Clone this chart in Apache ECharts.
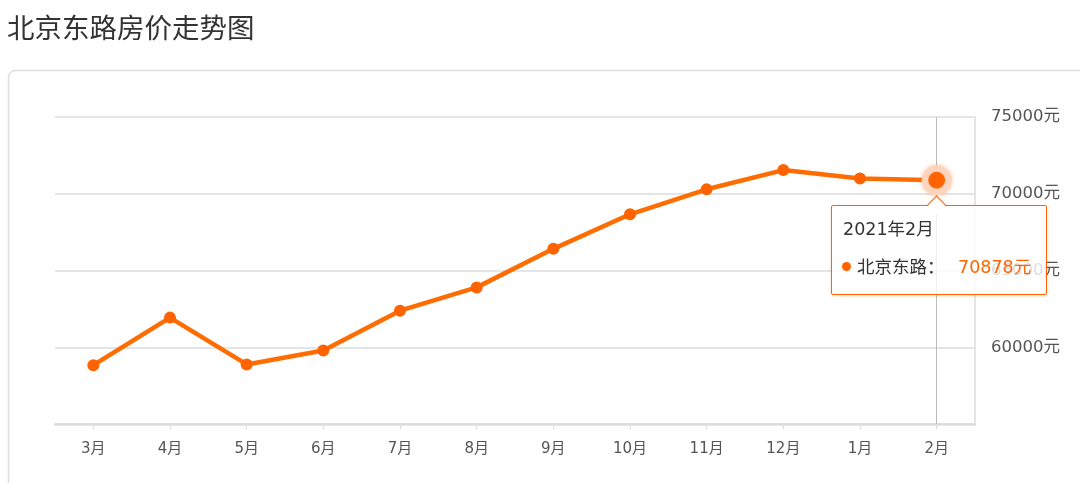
<!DOCTYPE html>
<html>
<head>
<meta charset="utf-8">
<style>
  html, body { margin: 0; padding: 0; background: #fff; }
  #chart { width: 1080px; height: 483px; }
</style>
<script src="https://cdn.jsdelivr.net/npm/echarts@6/dist/echarts.min.js"></script>
</head>
<body>
<div id="chart"></div>
<script>
const titleText = '北京东路房价走势图';
const seriesName = '北京东路';
const categories = ['3月', '4月', '5月', '6月', '7月', '8月', '9月', '10月', '11月', '12月', '1月', '2月'];
const fullDates = ['2020年3月', '2020年4月', '2020年5月', '2020年6月', '2020年7月', '2020年8月', '2020年9月', '2020年10月', '2020年11月', '2020年12月', '2021年1月', '2021年2月'];
const prices = [58830, 61930, 58880, 59790, 62380, 63900, 66410, 68660, 70290, 71540, 71000, 70878];
const yMin = 55000, yMax = 75000, yStep = 5000;
const unit = '元';

const FONT = '"DejaVu Sans", "Noto Sans CJK SC", sans-serif';
const CJK = '"Noto Sans CJK SC", sans-serif';
const HTMLFONT = "'DejaVu Sans', 'Noto Sans CJK SC', sans-serif";
const ORANGE = '#ff6300';

const chart = echarts.init(document.getElementById('chart'), null, { renderer: 'canvas' });

chart.setOption({
  animation: false,
  backgroundColor: '#fff',
  textStyle: { fontFamily: FONT },
  title: {
    text: titleText,
    left: 2,
    top: 9,
    textStyle: { fontSize: 27.5, fontWeight: 'normal', color: '#333', fontFamily: CJK }
  },
  graphic: [{
    type: 'rect',
    z: -10,
    silent: true,
    shape: { x: 8.5, y: 70.5, width: 1200, height: 600, r: 7 },
    style: { fill: 'none', stroke: '#dedede', lineWidth: 1.5 }
  }],
  grid: { left: 55, right: 105, top: 117, bottom: 59 },
  tooltip: {
    trigger: 'axis',
    alwaysShowContent: true,
    transitionDuration: 0,
    padding: 0,
    borderWidth: 1,
    borderColor: ORANGE,
    borderRadius: 2,
    backgroundColor: 'rgba(255,255,255,0.8)',
    extraCssText: 'border:1.5px solid #ff6300 !important;box-shadow:0 1px 3px rgba(255,102,0,0.25) !important;',
    axisPointer: {
      type: 'line',
      z: 1,
      lineStyle: { color: '#bbbbbb', width: 1, type: 'solid' }
    },
    position: function (point) {
      return [point[0] - 106, point[1] + 25];
    },
    formatter: function (params) {
      const p = params[0];
      return '<div style="position:relative;width:214px;height:88px;font-family:' + HTMLFONT + ';">' +
        '<div style="position:absolute;left:98px;top:-8px;width:12px;height:12px;background:#fff;border-left:1.5px solid ' + ORANGE + ';border-top:1.5px solid ' + ORANGE + ';transform:rotate(45deg);"></div>' +
        '<div style="position:absolute;left:11px;top:12px;font-size:17.5px;color:#333;line-height:22px;white-space:nowrap;">' + fullDates[p.dataIndex] + '</div>' +
        '<div style="position:absolute;left:10px;top:50px;font-size:17.5px;line-height:22px;color:#333;white-space:nowrap;">' +
          '<span style="display:inline-block;width:9px;height:9px;border-radius:50%;background:' + ORANGE + ';margin-right:6px;vertical-align:2px;"></span>' +
          p.seriesName + '：' +
          '<span style="position:absolute;left:116px;top:0;color:' + ORANGE + ';">' + p.value + unit + '</span>' +
        '</div>' +
      '</div>';
    }
  },
  xAxis: {
    type: 'category',
    data: categories,
    boundaryGap: true,
    axisLine: { show: true, lineStyle: { color: '#dcdcdc', width: 2.5 } },
    axisTick: { show: true, alignWithLabel: true, length: 5, lineStyle: { color: '#dcdcdc', width: 1 } },
    axisLabel: { color: '#555', fontSize: 15, margin: 18, fontFamily: FONT }
  },
  yAxis: {
    type: 'value',
    position: 'right',
    min: yMin,
    max: yMax,
    interval: yStep,
    axisLine: { show: true, lineStyle: { color: '#dcdcdc', width: 1.5 } },
    axisTick: { show: false },
    splitLine: { show: true, lineStyle: { color: '#dcdcdc', width: 1.5 } },
    axisLabel: {
      color: '#555',
      fontSize: 16.5,
      margin: 16,
      verticalAlign: 'middle',
      fontFamily: FONT,
      formatter: function (v) { return v === yMin ? '' : v + unit; }
    }
  },
  series: [{
    name: seriesName,
    type: 'line',
    z: 5,
    data: prices,
    symbol: 'circle',
    symbolSize: 12,
    showSymbol: true,
    lineStyle: { color: ORANGE, width: 4.5 },
    itemStyle: { color: ORANGE },
    emphasis: {
      scale: 1.95,
      itemStyle: {
        color: ORANGE,
        borderColor: '#ffd4bd',
        borderWidth: 6.5,
        shadowBlur: 5,
        shadowColor: 'rgba(255,120,40,0.35)'
      }
    }
  }]
});

chart.dispatchAction({ type: 'showTip', seriesIndex: 0, dataIndex: prices.length - 1 });
</script>
</body>
</html>
